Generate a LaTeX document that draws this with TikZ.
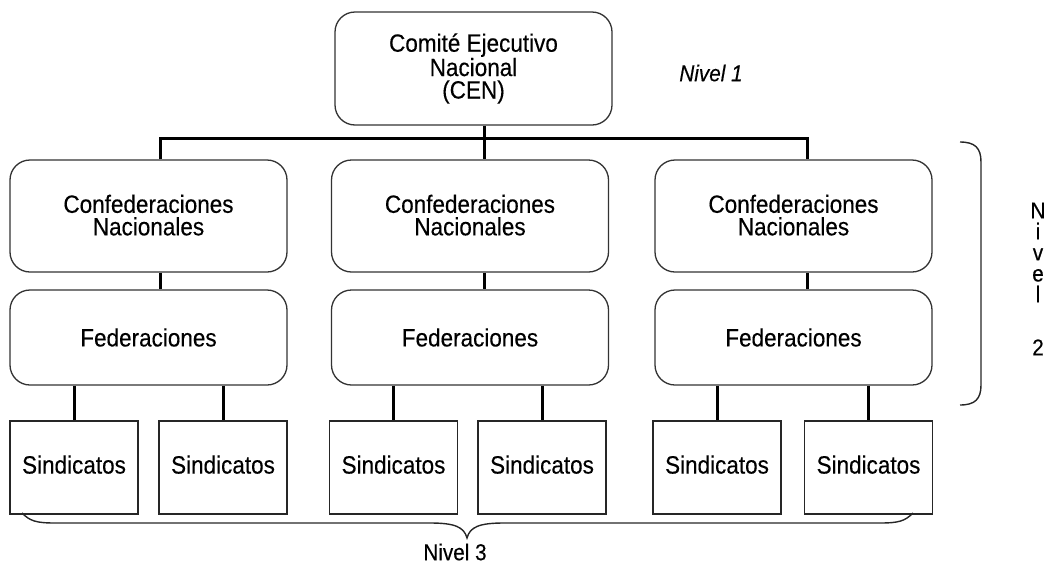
\documentclass[tikz,border=0pt]{standalone}
\usepackage{fontspec}
\setmainfont{Liberation Sans}[FakeStretch=0.9, FakeBold=0.3]
\begin{document}
\begin{tikzpicture}[x=1pt,y=-1pt,
  box/.style={draw=black!80, line width=1.3pt, rounded corners=20pt, fill=white,
    minimum width=277pt, align=center, inner sep=0pt, text=black,
    font=\fontsize{25}{22.5}\selectfont},
  sbox/.style={draw=black!85, line width=1.3pt, fill=white, minimum width=128pt,
    minimum height=93pt, inner sep=0pt, text=black, font=\fontsize{25}{22}\selectfont},
  conn/.style={line width=3pt, black},
  brace/.style={line width=1.4pt, black!85},
  lab/.style={text=black, inner sep=0pt, font=\fontsize{23}{21}\selectfont}]
\useasboundingbox (0,0) rectangle (1050,563);
% top
\node[box, minimum height=113pt] (cen) at (473.5,68.5) {Comité Ejecutivo\\Nacional\\(CEN)};
\node[lab, font=\fontsize{23}{21}\selectfont\itshape] (n1) at (711,73) {Nivel 1};
% level 2
\foreach \i/\x in {1/148.5, 2/470, 3/793.5}{
  \node[box, minimum height=112pt] (conf\i) at (\x,216) {\raisebox{2pt}{Confederaciones}\\\raisebox{2pt}{Nacionales}};
  \node[box, minimum height=95pt] (fed\i) at (\x,337.5) {Federaciones};
}
% sindicatos
\foreach \i/\x in {1/74, 2/223, 3/393.5, 4/542, 5/717, 6/868.5}{
  \node[sbox] (s\i) at (\x,467.5) {\raisebox{6pt}{Sindicatos}};
}
% connectors
\coordinate (k1) at (160,138);
\coordinate (k2) at (484,138);
\coordinate (k3) at (807,138);
\draw[conn] (cen.south -| k2) -- (k2);
\draw[conn] (k1 |- conf1.north) -- (k1) -- (k3) -- (k3 |- conf3.north);
\draw[conn] (k2) -- (k2 |- conf2.north);
\draw[conn] (conf1.south -| k1) -- (fed1.north -| k1);
\draw[conn] (conf2.south -| k2) -- (fed2.north -| k2);
\draw[conn] (conf3.south -| k3) -- (fed3.north -| k3);
\draw[conn] (fed1.south -| s1.north) -- (s1.north);
\draw[conn] (fed1.south -| s2.north) -- (s2.north);
\draw[conn] (fed2.south -| s3.north) -- (s3.north);
\draw[conn] (fed2.south -| s4.north) -- (s4.north);
\draw[conn] (fed3.south -| s5.north) -- (s5.north);
\draw[conn] (fed3.south -| s6.north) -- (s6.north);
% right bracket
\coordinate (rb1) at (960,142);
\coordinate (rb2) at (960,405);
\draw[brace] (rb1) .. controls (975,142) and (981,148) .. (981,162)
  -- (981,385) .. controls (981,399) and (975,405) .. (rb2);
\node[lab, align=center] (n2) at (1038,279) {N\\i\\v\\e\\l\\[32pt]2};
% bottom brace
\coordinate (bb1) at (22,513);
\coordinate (bb2) at (913,513);
\coordinate (bt) at (467,538);
\draw[brace] (bb1) .. controls (30,521) and (36,523) .. (55,523)
  -- (430,523) .. controls (455,523) and (464,527) .. (bt)
  .. controls (470,527) and (479,523) .. (504,523)
  -- (880,523) .. controls (899,523) and (905,521) .. (bb2);
\node[lab] (n3) at (455,552) {Nivel 3};
\end{tikzpicture}
\end{document}
